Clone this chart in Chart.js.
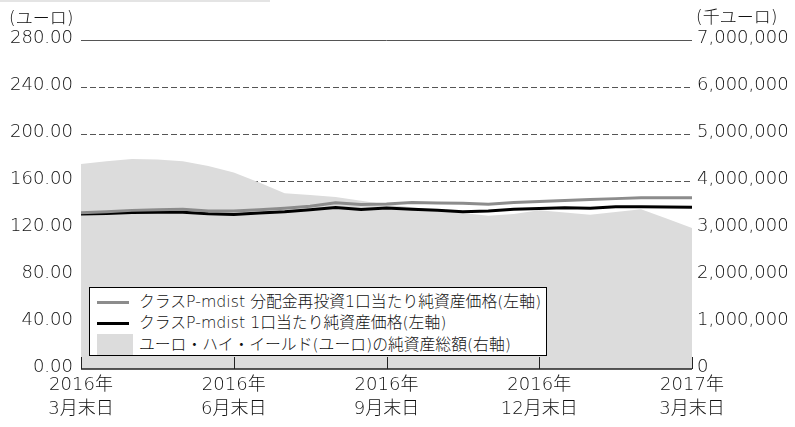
<!DOCTYPE html>
<html><head><meta charset="utf-8">
<script src="https://cdn.jsdelivr.net/npm/chart.js@4/dist/chart.umd.min.js"></script>
<style>
html,body{margin:0;padding:0;background:#fff;}
#wrap{position:relative;width:795px;height:427px;overflow:hidden;}
#c{position:absolute;left:0;top:0;}
.t{position:absolute;font-family:'DejaVu Sans','Noto Sans CJK JP',sans-serif;font-weight:300;color:#111;white-space:nowrap;}
#legend{position:absolute;left:89px;top:287px;width:456px;height:67px;border:1px solid #000;background:#fff;}
.row{position:absolute;left:0;height:22px;line-height:22px;font-size:15.8px;}
.sw{position:absolute;}
.lab{position:absolute;left:49px;top:0;}
</style></head><body>
<div id="wrap">
<canvas id="c" width="795" height="427"></canvas>
<div style="position:absolute;left:0;top:0;width:270px;height:2px;background:#e4e4e4;"></div>
<div class="t" style="left:9px;top:7px;font-size:17px;line-height:22px;">(ユーロ)</div>
<div class="t" style="left:696px;top:6px;font-size:17px;line-height:22px;">(千ユーロ)</div>
<div id="legend"></div>
</div>
<script>
// x positions in months from 2016-03-31
const months = [0,0.5,1,1.5,2,2.5,3,3.5,4,4.5,5,5.5,6,6.5,7,7.5,8,8.5,9,9.5,10,10.5,11,11.5,12];
const xTickLabels = [['2016年','3月末日'],['2016年','6月末日'],['2016年','9月末日'],['2016年','12月末日'],['2017年','3月末日']];
const seriesLabels = ['クラスP-mdist 分配金再投資1口当たり純資産価格(左軸)','クラスP-mdist 1口当たり純資産価格(左軸)','ユーロ・ハイ・イールド(ユーロ)の純資産総額(右軸)'];
// left axis (ユーロ)
const navReinvested = [133.0,133.9,135.0,135.5,135.9,134.5,134.5,135.5,136.8,138.5,141.5,140.0,140.4,141.6,141.3,141.0,140.2,141.8,142.6,143.5,144.3,145.0,145.8,145.8,145.8];
const navPrice = [132.0,132.3,133.2,133.4,133.4,132.2,131.5,132.8,133.9,135.5,137.5,135.8,137.0,136.0,135.2,133.9,134.5,135.9,136.6,137.3,136.8,138.0,138.0,137.8,137.6];
// right axis (千ユーロ)
const totalAssets = [4360000,4420000,4470000,4460000,4420000,4320000,4180000,3970000,3740000,3700000,3660000,3580000,3500000,3440000,3380000,3320000,3260000,3300000,3380000,3330000,3280000,3340000,3400000,3200000,3000000];
const leftTicks = {min:0,max:280,step:40};
const rightTicks = {min:0,max:7000000,step:1000000};

const colors = ['#8c8c8c','#000000','#dcdcdc'];

// legend
const lg = document.getElementById('legend');
seriesLabels.forEach((txt,i)=>{
  const r = document.createElement('div');
  r.className='row t';
  r.style.top = [3,24,46][i]+'px';
  r.style.width='455px';
  const sw = document.createElement('div');
  sw.className='sw';
  if(i<2){sw.style.left='7px';sw.style.top='10px';sw.style.width='32px';sw.style.height='3px';}
  else{sw.style.left='7px';sw.style.top='0px';sw.style.width='36px';sw.style.height='21px';}
  sw.style.background=colors[i];
  r.appendChild(sw);
  const l = document.createElement('span');
  l.className='lab'; l.textContent=txt;
  r.appendChild(l);
  lg.appendChild(r);
});

const axisPlugin = {
  id:'axisPlugin',
  afterDatasetsDraw(chart){
    const {ctx, chartArea, scales} = chart;
    ctx.save();
    ctx.strokeStyle='#222';
    ctx.lineWidth=1.5;
    ctx.beginPath();
    ctx.moveTo(chartArea.left, chartArea.bottom);
    ctx.lineTo(chartArea.right, chartArea.bottom);
    ctx.stroke();
    ctx.lineWidth=1;
    scales.x.ticks.forEach(t=>{
      const x = Math.round(scales.x.getPixelForValue(t.value))+0.5;
      ctx.beginPath();
      ctx.moveTo(x, chartArea.bottom);
      ctx.lineTo(x, chartArea.bottom-12);
      ctx.stroke();
    });
    ctx.restore();
  }
};

const fontFam = "'DejaVu Sans','Noto Sans CJK JP',sans-serif";
new Chart(document.getElementById('c'),{
  type:'line',
  data:{
    datasets:[
      {label:seriesLabels[0],data:months.map((m,i)=>({x:m,y:navReinvested[i]})),borderColor:colors[0],borderWidth:3,pointRadius:0,fill:false,yAxisID:'y',tension:0},
      {label:seriesLabels[1],data:months.map((m,i)=>({x:m,y:navPrice[i]})),borderColor:colors[1],borderWidth:3,pointRadius:0,fill:false,yAxisID:'y',tension:0},
      {label:seriesLabels[2],data:months.map((m,i)=>({x:m,y:totalAssets[i]})),borderColor:colors[2],backgroundColor:colors[2],borderWidth:0,pointRadius:0,fill:'origin',yAxisID:'y1',tension:0}
    ]
  },
  options:{
    responsive:false,
    animation:false,
    devicePixelRatio:1,
    layout:{padding:{top:40,left:0,right:0,bottom:0}},
    plugins:{legend:{display:false},tooltip:{enabled:false}},
    scales:{
      x:{type:'linear',min:0,max:12,
        grid:{display:false,drawTicks:false},border:{display:false},
        ticks:{stepSize:3,autoSkip:false,maxRotation:0,padding:4,color:'#111',
          font:{family:fontFam,size:18,weight:300,lineHeight:1.35},
          callback:(v)=>xTickLabels[Math.round(v/3)]},
        afterFit:(s)=>{s.height=58;}
      },
      y:{position:'left',min:leftTicks.min,max:leftTicks.max,
        grid:{drawTicks:false,color:(c)=>(c.tick && c.tick.value===0)?'rgba(0,0,0,0)':'#555',lineWidth:1},
        border:{display:false,dash:(c)=>(c.tick && c.tick.value===280)?[]:[6,3]},
        ticks:{stepSize:leftTicks.step,padding:8,labelOffset:-2,color:'#111',font:{family:fontFam,size:18,weight:300},
          callback:(v)=>Number(v).toFixed(2)},
        afterFit:(s)=>{s.width=81;}
      },
      y1:{position:'right',min:rightTicks.min,max:rightTicks.max,
        grid:{drawOnChartArea:false,drawTicks:false},border:{display:false},
        ticks:{stepSize:rightTicks.step,padding:5,labelOffset:-2,color:'#111',font:{family:fontFam,size:18,weight:300},
          callback:(v)=>Number(v).toLocaleString('en-US')},
        afterFit:(s)=>{s.width=103;}
      }
    }
  },
  plugins:[axisPlugin]
});
</script>
</body></html>
